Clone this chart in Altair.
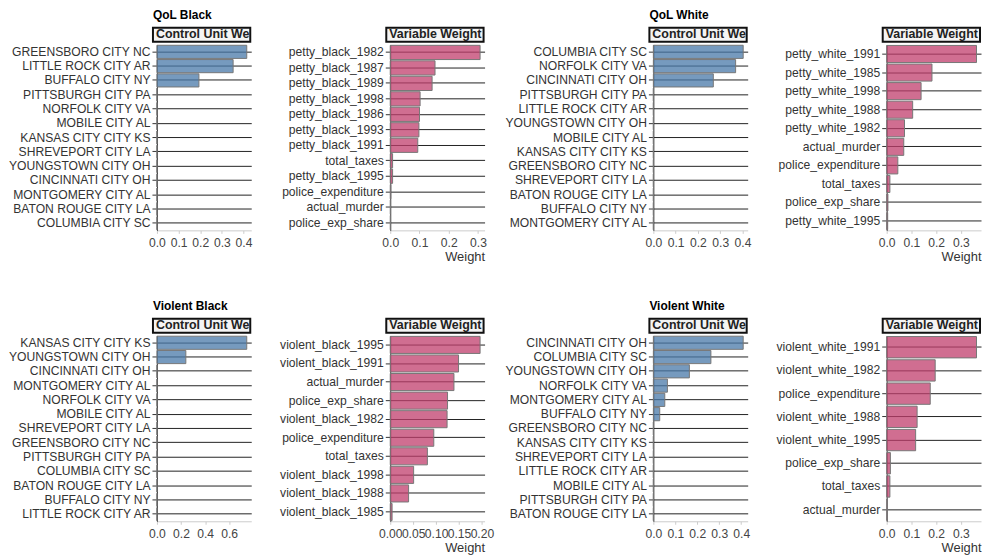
import altair as alt
import pandas as pd

# ---- QoL Black ----
qol_black_units = ["GREENSBORO CITY NC", "LITTLE ROCK CITY AR", "BUFFALO CITY NY",
                   "PITTSBURGH CITY PA", "NORFOLK CITY VA", "MOBILE CITY AL",
                   "KANSAS CITY CITY KS", "SHREVEPORT CITY LA", "YOUNGSTOWN CITY OH",
                   "CINCINNATI CITY OH", "MONTGOMERY CITY AL", "BATON ROUGE CITY LA",
                   "COLUMBIA CITY SC"]
qol_black_unit_w = [0.415, 0.352, 0.194, 0, 0, 0, 0, 0, 0, 0, 0, 0, 0]
qol_black_vars = ["petty_black_1982", "petty_black_1987", "petty_black_1989",
                  "petty_black_1998", "petty_black_1986", "petty_black_1993",
                  "petty_black_1991", "total_taxes", "petty_black_1995",
                  "police_expenditure", "actual_murder", "police_exp_share"]
qol_black_var_w = [0.307, 0.153, 0.143, 0.102, 0.100, 0.098, 0.094, 0.008, 0.008,
                   0.002, 0.001, 0.001]

# ---- QoL White ----
qol_white_units = ["COLUMBIA CITY SC", "NORFOLK CITY VA", "CINCINNATI CITY OH",
                   "PITTSBURGH CITY PA", "LITTLE ROCK CITY AR", "YOUNGSTOWN CITY OH",
                   "MOBILE CITY AL", "KANSAS CITY CITY KS", "GREENSBORO CITY NC",
                   "SHREVEPORT CITY LA", "BATON ROUGE CITY LA", "BUFFALO CITY NY",
                   "MONTGOMERY CITY AL"]
qol_white_unit_w = [0.403, 0.369, 0.269, 0, 0, 0, 0, 0, 0, 0, 0, 0, 0]
qol_white_vars = ["petty_white_1991", "petty_white_1985", "petty_white_1998",
                  "petty_white_1988", "petty_white_1982", "actual_murder",
                  "police_expenditure", "total_taxes", "police_exp_share",
                  "petty_white_1995"]
qol_white_var_w = [0.363, 0.183, 0.139, 0.105, 0.072, 0.069, 0.045, 0.013, 0.005, 0.004]

# ---- Violent Black ----
violent_black_units = ["KANSAS CITY CITY KS", "YOUNGSTOWN CITY OH", "CINCINNATI CITY OH",
                       "MONTGOMERY CITY AL", "NORFOLK CITY VA", "MOBILE CITY AL",
                       "SHREVEPORT CITY LA", "GREENSBORO CITY NC", "PITTSBURGH CITY PA",
                       "COLUMBIA CITY SC", "BATON ROUGE CITY LA", "BUFFALO CITY NY",
                       "LITTLE ROCK CITY AR"]
violent_black_unit_w = [0.746, 0.240, 0, 0, 0, 0, 0, 0, 0, 0, 0, 0, 0]
violent_black_vars = ["violent_black_1995", "violent_black_1991", "actual_murder",
                      "police_exp_share", "violent_black_1982", "police_expenditure",
                      "total_taxes", "violent_black_1998", "violent_black_1988",
                      "violent_black_1985"]
violent_black_var_w = [0.196, 0.149, 0.139, 0.125, 0.124, 0.095, 0.081, 0.051, 0.040, 0.004]

# ---- Violent White ----
violent_white_units = ["CINCINNATI CITY OH", "COLUMBIA CITY SC", "YOUNGSTOWN CITY OH",
                       "NORFOLK CITY VA", "MONTGOMERY CITY AL", "BUFFALO CITY NY",
                       "GREENSBORO CITY NC", "KANSAS CITY CITY KS", "SHREVEPORT CITY LA",
                       "LITTLE ROCK CITY AR", "MOBILE CITY AL", "PITTSBURGH CITY PA",
                       "BATON ROUGE CITY LA"]
violent_white_unit_w = [0.409, 0.262, 0.164, 0.064, 0.052, 0.029, 0, 0, 0, 0, 0, 0, 0]
violent_white_vars = ["violent_white_1991", "violent_white_1982", "police_expenditure",
                      "violent_white_1988", "violent_white_1995", "police_exp_share",
                      "total_taxes", "actual_murder"]
violent_white_var_w = [0.363, 0.196, 0.176, 0.123, 0.117, 0.015, 0.013, 0.003]

# x tick values per panel
ticks_tenths_4 = [0, 0.1, 0.2, 0.3, 0.4]
ticks_tenths_3 = [0, 0.1, 0.2, 0.3]
ticks_fifths = [0, 0.2, 0.4, 0.6]
ticks_twentieths = [0, 0.05, 0.1, 0.15, 0.2]

BLUE = "#4878a8"
PINK = "#c03d6c"
FONT = "Liberation Sans"


def panel(names, weights, ticks, header, color, left, right=105, group="", fmt=".1f",
          x_title=None):
    df = pd.DataFrame({"name": names, "weight": weights})
    bars = alt.Chart(df).mark_bar(
        fill=color, fillOpacity=0.75, stroke="#777", strokeWidth=1
    ).encode(
        x=alt.X("weight:Q", title=x_title,
                scale=alt.Scale(domain=[0, max(weights) * 1.05], nice=False),
                axis=alt.Axis(values=ticks, format=fmt, labelOverlap=False, labelFlush=False,
                              grid=False, tickSize=3, tickColor="#ccc", domainColor="#ccc",
                              labelPadding=3, labelFontSize=12.2, labelColor="#444",
                              titleAnchor="end", titleFontSize=13, titleFontWeight="normal",
                              titleColor="#333", titlePadding=2)),
        y=alt.Y("name:N", sort=None, title=None,
                scale=alt.Scale(paddingInner=0.08, paddingOuter=0.04),
                axis=alt.Axis(bandPosition=0.5, grid=True, gridColor="#222", gridWidth=1,
                              tickSize=5, tickColor="#333", domainColor="#333",
                              labelPadding=2, labelFontSize=12.2, labelColor="#333")),
    )
    tag = pd.DataFrame({"label": [header], "group": [group]})
    # invisible spacer fixing how far the panel reaches left and right
    spacer = alt.Chart(tag).mark_rect(opacity=0).encode(
        x=alt.value(-left), x2=alt.value(right), y=alt.value(0), y2=alt.value(1))
    # boxed strip header, text cut off at the box edge like the original
    box = alt.Chart(tag).mark_rect(fill="#f4f4f4", stroke="#111", strokeWidth=2).encode(
        x=alt.value(-4), x2=alt.value(94), y=alt.value(-17), y2=alt.value(-3))
    head = alt.Chart(tag).mark_text(
        align="left", baseline="alphabetic", fontSize=12.5, fontWeight="bold",
        color="#222", limit=96, ellipsis="\u200b"
    ).encode(x=alt.value(-1), y=alt.value(-7), text="label:N")
    layers = [spacer, bars, box, head]
    if group:
        layers.append(alt.Chart(tag).mark_text(
            align="left", baseline="alphabetic", fontSize=12, fontWeight="bold", color="#000"
        ).encode(x=alt.value(-4), y=alt.value(-26), text="group:N"))
    return alt.layer(*layers).properties(width=95, height=187)


CU = "Control Unit Weights"
VW = "Variable Weights"

panels = [
    panel(qol_black_units, qol_black_unit_w, ticks_tenths_4, CU, BLUE, 151, group="QoL Black"),
    panel(qol_black_vars, qol_black_var_w, ticks_tenths_3, VW, PINK, 128, x_title="Weight"),
    panel(qol_white_units, qol_white_unit_w, ticks_tenths_4, CU, BLUE, 158, group="QoL White"),
    panel(qol_white_vars, qol_white_var_w, ticks_tenths_3, VW, PINK, 128, right=90,
          x_title="Weight"),
    panel(violent_black_units, violent_black_unit_w, ticks_fifths, CU, BLUE, 151,
          group="Violent Black"),
    panel(violent_black_vars, violent_black_var_w, ticks_twentieths, VW, PINK, 128,
          fmt=".2f", x_title="Weight"),
    panel(violent_white_units, violent_white_unit_w, ticks_tenths_4, CU, BLUE, 158,
          group="Violent White"),
    panel(violent_white_vars, violent_white_var_w, ticks_tenths_3, VW, PINK, 128, right=90,
          x_title="Weight"),
]

chart = alt.concat(
    *panels, columns=4, align="each", spacing={"row": 35, "column": 0}
).properties(
    padding={"top": -2, "left": -2, "right": 0, "bottom": 0}, background="white"
).configure(
    font=FONT
).configure_view(
    stroke="transparent"
)

chart.save("out.html", embed_options={"renderer": "svg", "actions": False})
